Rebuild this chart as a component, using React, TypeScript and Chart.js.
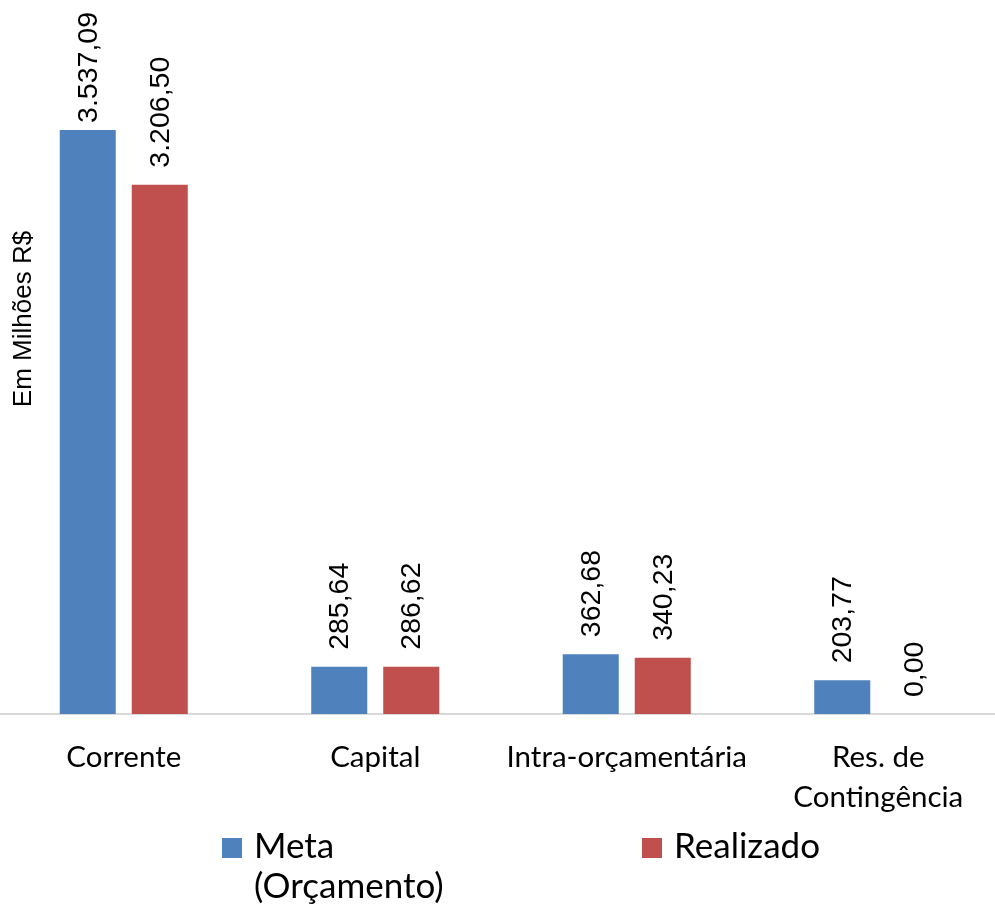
import React, { useEffect, useRef } from 'react';
import { Chart, registerables } from 'chart.js';

Chart.register(...registerables);

// ---- data ----
const CATEGORIES: (string | string[])[] = ['Corrente', 'Capital', 'Intra-orçamentária', ['Res. de', 'Contingência']];
const META_VALUES = [3537.09, 285.64, 362.68, 203.77];
const REALIZADO_VALUES = [3206.5, 286.62, 340.23, 0.0];
const SERIES_LABELS = ['Meta (Orçamento)', 'Realizado'];
const SERIES_COLORS = ['#4F81BD', '#C0504D'];
const Y_TITLE = 'Em Milhões R$';
const Y_MAX = 4325;

// ---- layout / style ----
const PAGE_W = 995;
const PAGE_H = 912;
const SHIFT_X = -2; // canvas is shifted so the plot area extends slightly past the page
const CANVAS_W = 1006;
const AXIS_HEIGHT = 198;
const LABEL_FONT = '28.5px "Liberation Sans", Arial, sans-serif';
const TITLE_FONT = '26px "Liberation Sans", Arial, sans-serif';
const LEGEND_FONT = '35px Lato, "Open Sans", sans-serif';
const LABEL_GAP = 17;
const LABEL_MIN_TOP = 12;
const LEGEND_ITEMS_X = [222, 642];
const LEGEND_BASELINE = 858;
const LEGEND_LINE_H = 40;
const LEGEND_BOX = 20;
const LEGEND_TEXT_GAP = 32;
const LEGEND_MAX_W = 240;

function fmt(v: number): string {
  const [intPart, dec] = Math.abs(v).toFixed(2).split('.');
  const withDots = intPart.replace(/\B(?=(\d{3})+(?!\d))/g, '.');
  return (v < 0 ? '-' : '') + withDots + ',' + dec;
}

const barLabelPlugin = {
  id: 'barLabels',
  afterDatasetsDraw(chart: any) {
    const ctx = chart.ctx as CanvasRenderingContext2D;
    ctx.save();
    ctx.font = LABEL_FONT;
    ctx.fillStyle = '#000000';
    ctx.textAlign = 'left';
    ctx.textBaseline = 'middle';
    chart.data.datasets.forEach((ds: any, di: number) => {
      const meta = chart.getDatasetMeta(di);
      meta.data.forEach((bar: any, i: number) => {
        const text = fmt(ds.data[i]);
        const w = ctx.measureText(text).width;
        let start = bar.y - LABEL_GAP;
        if (start - w < LABEL_MIN_TOP) start = LABEL_MIN_TOP + w;
        ctx.save();
        ctx.translate(bar.x + 1, start);
        ctx.rotate(-Math.PI / 2);
        ctx.fillText(text, 0, 0);
        ctx.restore();
      });
    });
    ctx.restore();
  },
};

const yTitlePlugin = {
  id: 'yTitle',
  afterDraw(chart: any) {
    const ctx = chart.ctx as CanvasRenderingContext2D;
    ctx.save();
    ctx.font = TITLE_FONT;
    ctx.fillStyle = '#000000';
    ctx.textAlign = 'center';
    ctx.textBaseline = 'middle';
    ctx.translate(24 - SHIFT_X, 319);
    ctx.rotate(-Math.PI / 2);
    ctx.fillText(Y_TITLE, 0, 0);
    ctx.restore();
  },
};

function wrap(ctx: CanvasRenderingContext2D, text: string, maxW: number): string[] {
  const words = text.split(' ');
  const lines: string[] = [];
  let cur = '';
  words.forEach((w) => {
    const test = cur ? cur + ' ' + w : w;
    if (cur && ctx.measureText(test).width > maxW) {
      lines.push(cur);
      cur = w;
    } else {
      cur = test;
    }
  });
  if (cur) lines.push(cur);
  return lines;
}

const legendPlugin = {
  id: 'bottomLegend',
  afterDraw(chart: any) {
    const ctx = chart.ctx as CanvasRenderingContext2D;
    ctx.save();
    ctx.font = LEGEND_FONT;
    ctx.textAlign = 'left';
    ctx.textBaseline = 'alphabetic';
    chart.data.datasets.forEach((ds: any, di: number) => {
      const x = LEGEND_ITEMS_X[di] - SHIFT_X;
      ctx.fillStyle = ds.backgroundColor;
      ctx.fillRect(x, LEGEND_BASELINE - LEGEND_BOX, LEGEND_BOX, LEGEND_BOX);
      ctx.fillStyle = '#000000';
      const lines = wrap(ctx, ds.label, LEGEND_MAX_W);
      lines.forEach((ln, li) => {
        ctx.fillText(ln, x + LEGEND_TEXT_GAP, LEGEND_BASELINE + li * LEGEND_LINE_H);
      });
    });
    ctx.restore();
  },
};

export default function App() {
  const canvasRef = useRef<HTMLCanvasElement | null>(null);

  useEffect(() => {
    const canvas = canvasRef.current;
    if (!canvas) return;
    const chart = new Chart(canvas, {
      type: 'bar',
      data: {
        labels: CATEGORIES as any,
        datasets: [
          {
            label: SERIES_LABELS[0],
            data: META_VALUES,
            backgroundColor: SERIES_COLORS[0],
            categoryPercentage: 0.5726,
            barPercentage: 0.778,
          },
          {
            label: SERIES_LABELS[1],
            data: REALIZADO_VALUES,
            backgroundColor: SERIES_COLORS[1],
            categoryPercentage: 0.5726,
            barPercentage: 0.778,
          },
        ],
      },
      options: {
        responsive: false,
        animation: false,
        devicePixelRatio: 1,
        layout: { padding: { top: 0, left: 0, right: 0, bottom: 0 } },
        plugins: {
          legend: { display: false },
          tooltip: { enabled: false },
          title: { display: false },
        },
        scales: {
          x: {
            grid: { display: false, drawTicks: false },
            border: { display: true, color: '#D9D9D9', width: 2 },
            ticks: {
              color: '#000000',
              padding: 23,
              maxRotation: 0,
              autoSkip: false,
              font: { family: 'Lato, "Open Sans", sans-serif', size: 29.5, lineHeight: 1.36 },
            },
            afterFit(scale: any) {
              scale.height = AXIS_HEIGHT;
            },
          },
          y: {
            display: false,
            min: 0,
            max: Y_MAX,
          },
        },
      },
      plugins: [barLabelPlugin, yTitlePlugin, legendPlugin],
    });
    return () => chart.destroy();
  }, []);

  return (
    <div style={{ position: 'fixed', left: 0, top: 0, width: PAGE_W, height: PAGE_H, overflow: 'hidden', background: '#ffffff' }}>
      <div style={{ position: 'absolute', left: SHIFT_X, top: 0, width: CANVAS_W, height: PAGE_H }}>
        <canvas ref={canvasRef} width={CANVAS_W} height={PAGE_H} style={{ display: 'block' }} />
      </div>
    </div>
  );
}
